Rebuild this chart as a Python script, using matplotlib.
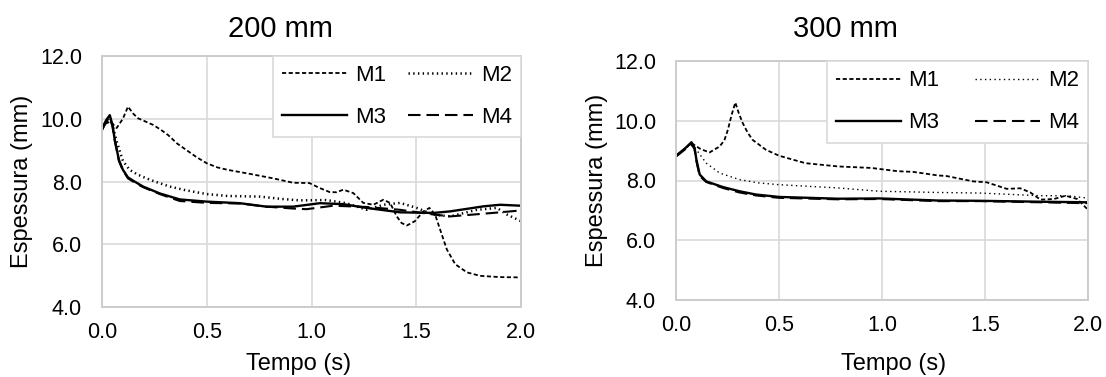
import matplotlib
matplotlib.use("Agg")
from matplotlib import pyplot as plt

# 200 mm
t_200_m1 = [0, 0.02, 0.04, 0.07, 0.10, 0.124, 0.15, 0.172, 0.21, 0.244, 0.28, 0.315, 0.36, 0.403, 0.45, 0.5,
            0.55, 0.6, 0.7, 0.817, 0.912, 0.99, 1.04, 1.088, 1.12, 1.152, 1.2, 1.247, 1.295, 1.343, 1.375,
            1.407, 1.43, 1.455, 1.494, 1.534, 1.563, 1.59, 1.614, 1.646, 1.686, 1.742, 1.805, 1.9, 2.0]
y_200_m1 = [9.65, 9.85, 9.9, 9.7, 10.0, 10.38, 10.15, 10.01, 9.9, 9.8, 9.65, 9.48, 9.2, 9.0, 8.78, 8.58,
            8.45, 8.37, 8.25, 8.1, 7.96, 7.95, 7.79, 7.66, 7.66, 7.74, 7.63, 7.32, 7.26, 7.42, 7.32,
            6.89, 6.68, 6.6, 6.74, 7.05, 7.16, 6.95, 6.47, 5.84, 5.37, 5.11, 5.0, 4.96, 4.95]
t_200_m2 = [0, 0.02, 0.04, 0.05, 0.069, 0.1, 0.132, 0.17, 0.212, 0.26, 0.323, 0.4, 0.5, 0.6, 0.753, 0.85,
            0.944, 1.07, 1.167, 1.263, 1.343, 1.423, 1.502, 1.582, 1.662, 1.79, 1.885, 1.933, 2.0]
y_200_m2 = [9.65, 9.9, 10.0, 9.8, 9.3, 8.65, 8.37, 8.22, 8.1, 7.98, 7.84, 7.72, 7.6, 7.54, 7.52, 7.45,
            7.4, 7.41, 7.31, 7.1, 7.26, 7.32, 7.16, 6.95, 6.89, 7.1, 7.16, 6.95, 6.74]
t_200_m3 = [0, 0.02, 0.037, 0.05, 0.061, 0.081, 0.1, 0.124, 0.16, 0.196, 0.276, 0.371, 0.5, 0.658, 0.785,
            0.912, 1.04, 1.151, 1.263, 1.423, 1.582, 1.662, 1.821, 1.9, 2.0]
y_200_m3 = [9.69, 9.95, 10.11, 9.8, 9.32, 8.68, 8.37, 8.13, 7.98, 7.84, 7.62, 7.43, 7.36, 7.31, 7.2,
            7.2, 7.31, 7.28, 7.16, 7.02, 7.0, 7.05, 7.21, 7.26, 7.23]
t_200_m4 = [0, 0.02, 0.037, 0.05, 0.061, 0.081, 0.1, 0.124, 0.16, 0.196, 0.276, 0.371, 0.5, 0.658, 0.785,
            0.912, 0.976, 1.104, 1.263, 1.423, 1.582, 1.662, 1.774, 1.9, 2.0]
y_200_m4 = [9.65, 9.9, 10.05, 9.75, 9.3, 8.65, 8.35, 8.1, 7.95, 7.82, 7.6, 7.38, 7.32, 7.3, 7.2,
            7.14, 7.12, 7.23, 7.19, 7.1, 6.95, 6.89, 6.95, 7.02, 7.08]

# 300 mm
t_300_m1 = [0, 0.04, 0.075, 0.12, 0.163, 0.212, 0.235, 0.252, 0.27, 0.288, 0.305, 0.324, 0.348, 0.372,
            0.436, 0.5, 0.628, 0.788, 0.949, 1.077, 1.15, 1.27, 1.313, 1.443, 1.508, 1.606, 1.671, 1.72,
            1.769, 1.834, 1.891, 1.948, 2.0]
y_300_m1 = [8.83, 9.05, 9.25, 9.05, 8.94, 9.14, 9.35, 9.7, 10.2, 10.61, 10.25, 9.92, 9.6, 9.36,
            9.03, 8.83, 8.58, 8.47, 8.42, 8.31, 8.29, 8.17, 8.15, 7.97, 7.94, 7.72, 7.74, 7.6,
            7.36, 7.38, 7.49, 7.38, 7.02]
t_300_m2 = [0, 0.04, 0.07, 0.099, 0.147, 0.212, 0.308, 0.4, 0.5, 0.788, 0.987, 1.27, 1.476, 1.769, 1.9, 2.0]
y_300_m2 = [8.83, 9.05, 9.2, 9.03, 8.58, 8.25, 8.03, 7.92, 7.86, 7.75, 7.64, 7.6, 7.58, 7.49, 7.49, 7.41]
t_300_m3 = [0, 0.04, 0.075, 0.09, 0.099, 0.115, 0.147, 0.228, 0.308, 0.388, 0.5, 0.788, 0.987, 1.27,
            1.476, 1.769, 2.0]
y_300_m3 = [8.83, 9.05, 9.28, 9.1, 8.7, 8.2, 7.97, 7.78, 7.64, 7.53, 7.45, 7.39, 7.4, 7.33,
            7.32, 7.29, 7.27]
t_300_m4 = [0, 0.04, 0.075, 0.09, 0.099, 0.115, 0.147, 0.228, 0.308, 0.388, 0.5, 0.788, 0.987, 1.27,
            1.476, 1.769, 2.0]
y_300_m4 = [8.8, 9.02, 9.22, 9.05, 8.65, 8.15, 7.95, 7.75, 7.6, 7.5, 7.42, 7.37, 7.38, 7.31,
            7.31, 7.27, 7.24]

labels = ["M1", "M2", "M3", "M4"]
x_ticks = [0.0, 0.5, 1.0, 1.5, 2.0]
y_ticks = [4.0, 6.0, 8.0, 10.0, 12.0]

plt.rcParams['font.family'] = ['Liberation Sans', 'DejaVu Sans']
plt.rcParams['lines.scale_dashes'] = False

W, H = 1106, 377
fig = plt.figure(figsize=(W / 100, H / 100), dpi=100)

def px_axes(x0, y0, x1, y1):
    return fig.add_axes([x0 / W, 1 - y1 / H, (x1 - x0) / W, (y1 - y0) / H])

def fig_text(x, y, s, **kw):
    # x, y in pixels from the top-left corner
    fig.text(x / W, 1 - y / H, s, **kw)

def style_axes(ax):
    ax.set_xlim(0, 2)
    ax.set_ylim(4, 12)
    ax.set_xticks(x_ticks)
    ax.set_yticks(y_ticks)
    ax.set_xticklabels([f"{v:.1f}" for v in x_ticks])
    ax.set_yticklabels([f"{v:.1f}" for v in y_ticks])
    ax.tick_params(length=0, labelsize=15.5)
    ax.tick_params(axis='x', pad=10.5)
    ax.tick_params(axis='y', pad=14.4)
    ax.grid(color='#d9d9d9', lw=1.2)
    ax.set_axisbelow(True)
    for s in ax.spines.values():
        s.set_color('#cccccc')
        s.set_linewidth(1.4)

def draw(ax, series, dot_lw, colsp):
    styles = [dict(ls=(0, (3.0, 1.8)), lw=1.3),
              dict(ls=(0, (1.0, 2.4)), lw=dot_lw),
              dict(ls='-', lw=1.7),
              dict(ls=(0, (9.0, 4.3)), lw=1.5)]
    lines = []
    for (t, y), lab, st in zip(series, labels, styles):
        ln, = ax.plot(t, y, color='black', label=lab, **st)
        lines.append(ln)
    # row-wise order: M1 M2 / M3 M4
    order = [0, 2, 1, 3]
    leg = ax.legend([lines[i] for i in order], [labels[i] for i in order], ncol=2,
                    loc='upper right', bbox_to_anchor=(1, 1), borderaxespad=0,
                    fontsize=16, handlelength=2.9, handletextpad=0.36, columnspacing=colsp,
                    labelspacing=0.95, borderpad=0.42, fancybox=False, framealpha=1)
    leg.get_frame().set_edgecolor('#d9d9d9')
    leg.get_frame().set_linewidth(1.2)

ax1 = px_axes(102, 55.7, 521, 307.3)
style_axes(ax1)
draw(ax1, [(t_200_m1, y_200_m1), (t_200_m2, y_200_m2), (t_200_m3, y_200_m3), (t_200_m4, y_200_m4)], 1.8, 1.0)

ax2 = px_axes(676, 61, 1088, 300)
style_axes(ax2)
draw(ax2, [(t_300_m1, y_300_m1), (t_300_m2, y_300_m2), (t_300_m3, y_300_m3), (t_300_m4, y_300_m4)], 1.0, 1.6)

fig_text(280, 36.7, "200 mm", ha='center', va='baseline', fontsize=21)
fig_text(845, 36.7, "300 mm", ha='center', va='baseline', fontsize=21)
fig_text(299, 370, "Tempo (s)", ha='center', va='baseline', fontsize=17)
fig_text(894, 370, "Tempo (s)", ha='center', va='baseline', fontsize=17)
fig_text(28.3, 181.5, "Espessura (mm)", ha='center', va='baseline', rotation=90,
         rotation_mode='anchor', fontsize=17)
fig_text(602.6, 180.5, "Espessura (mm)", ha='center', va='baseline', rotation=90,
         rotation_mode='anchor', fontsize=17)

fig.savefig("out.png", dpi=100)
